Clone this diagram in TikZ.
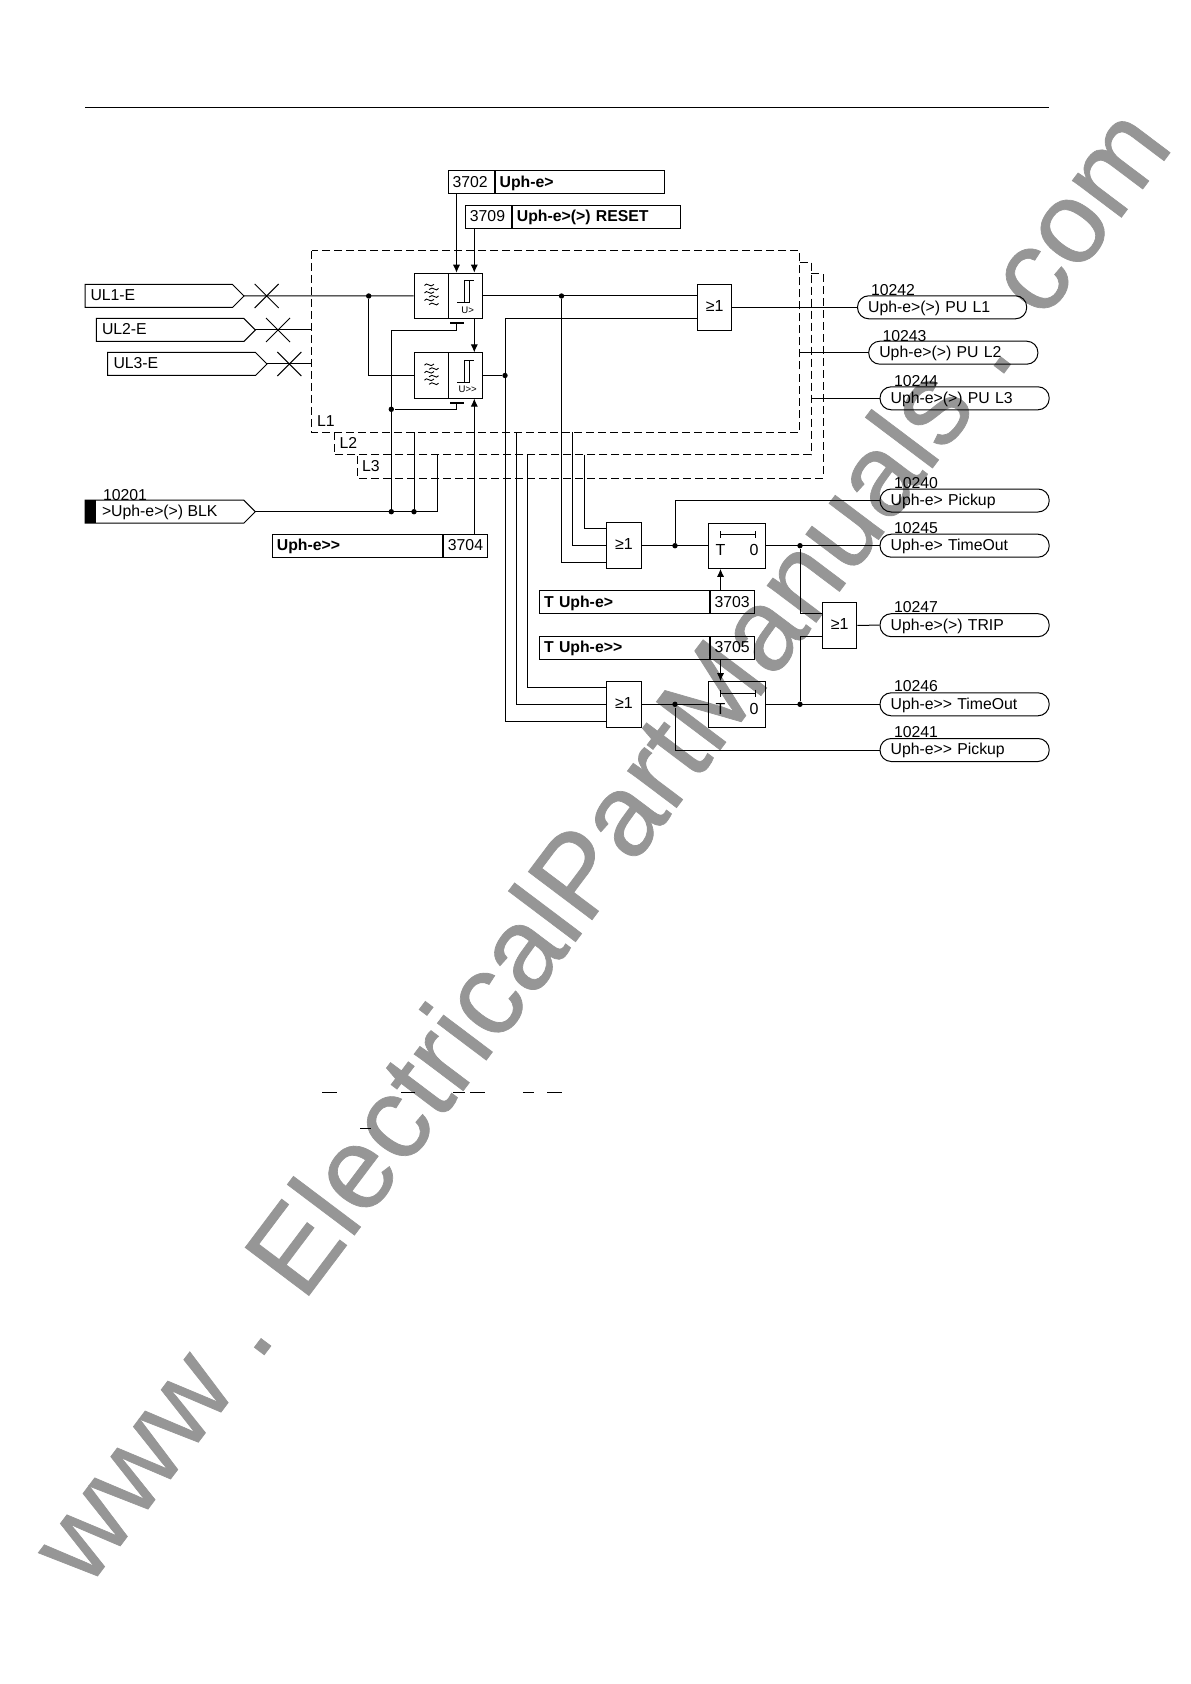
\documentclass[tikz,border=0pt]{standalone}
\usepackage{fontspec}
\setmainfont{Liberation Sans}
\newfontfamily\wmfont[FakeBold=0.6]{Liberation Sans}
\usetikzlibrary{arrows.meta,calc}
\definecolor{wmgray}{RGB}{150,150,150}
\tikzset{
  lbl/.style={anchor=west, inner sep=0pt, text height=6.4pt, text depth=1.5pt, font=\fontsize{7.9}{9}\selectfont},
  setbox/.style={draw, anchor=west, inner xsep=2.2pt, inner ysep=0pt, minimum height=11.5pt, text height=6.4pt, text depth=1.5pt, font=\fontsize{7.9}{9}\selectfont, align=left, text width=#1},
  pill/.style={draw, rounded corners=5.6pt, anchor=west, inner xsep=5.3pt, inner ysep=0pt, minimum height=11.5pt, text height=6.4pt, text depth=1.5pt, font=\fontsize{7.9}{9}\selectfont, align=left, text width=#1},
  orgate/.style={draw, minimum width=17.2pt, minimum height=23pt, inner sep=0pt, font=\fontsize{8}{9}\selectfont},
  block/.style={draw, minimum height=22.6pt, inner sep=0pt},
  timer/.style={draw, minimum width=28.4pt, minimum height=22.7pt, inner sep=0pt},
  dot/.style={circle, fill=black, inner sep=0pt, minimum size=2.7pt},
  arr/.style={-{Latex[length=4pt,width=3.6pt]}},
  bar/.style={line width=1pt},
  ph/.style={dash pattern=on 4pt off 2pt, line width=0.5pt}
}
\newcommand{\inputbox}[6]{% name, left, tip, y, text, text left
  \draw (#2,#4-11.5) -- (#3-11.5,#4-11.5) -- (#3,#4) -- (#3-11.5,#4+11.5) -- (#2,#4+11.5) -- cycle;
  \coordinate (#1) at (#3,#4);
  \node[lbl] (#1txt) at (#6,#4) {#5};
}
\newcommand{\crossmark}[2]{% x, y
  \draw (#1-12,#2-12) -- (#1+12,#2+12) (#1-12,#2+12) -- (#1+12,#2-12);
}
\newcommand{\filtersym}[1]{%
  \begin{scope}[shift={(#1)}, line width=0.45pt]
    \foreach \dy in {-7.5,0,7.5} {
      \draw (-7,\dy-1.5) .. controls (-4.5,\dy-6) and (-1.5,\dy+2) .. (2.5,\dy-2.6);
      \draw (-2.5,\dy+2.6) .. controls (1.5,\dy-2) and (4.5,\dy+6) .. (7,\dy+1.5);
    }
  \end{scope}
}
\newcommand{\thresholdsym}[2]{%
  \begin{scope}[shift={(#1)}, line width=0.45pt]
    \draw (-8,11) -- (4,11) -- (4,-11) -- (8.7,-11);
    \draw (-0.6,11) -- (-0.6,-11) -- (4,-11);
    \node[font=\fontsize{4.8}{5}\selectfont, inner sep=0pt] at (2.4,18.3) {#2};
  \end{scope}
}
\begin{document}
\begin{tikzpicture}[x=0.5pt, y=-0.5pt, line width=0.5pt, line join=miter]
  \useasboundingbox (0,0) rectangle (1190,1684);
  % watermark
  \node[rotate=53, text=wmgray, inner sep=0pt, font=\wmfont\fontsize{58}{58}\selectfont] (watermark) at (598,843) {www . ElectricalPartManuals . com};
  % top rule
  \coordinate (ruleL) at (85,107.5);
  \coordinate (ruleR) at (1049,107.5);
  \draw (ruleL) -- (ruleR);
  % phase frames
  \draw[ph] (311.7,251) rectangle (799.6,432.3);
  \draw[ph] (799.6,262.5) -- (811.4,262.5) -- (811.4,454.7) -- (334.3,454.7) -- (334.3,432.3);
  \draw[ph] (811.4,274) -- (823,274) -- (823,478) -- (357,478) -- (357,454.7);
  \node[lbl] (labL1) at (316.7,421.5) {L1};
  \node[lbl] (labL2) at (339,444) {L2};
  \node[lbl] (labL3) at (361.7,466.5) {L3};
  % settings
  \node[setbox=18.6pt] (s3702) at (447.7,182.3) {3702};
  \node[setbox=80.1pt] (s3702t) at (s3702.east) {\textbf{Uph-e>}};
  \node[setbox=18.6pt] (s3709) at (465,216.8) {3709};
  \node[setbox=79.6pt] (s3709t) at (s3709.east) {\textbf{Uph-e>(>) RESET}};
  \node[setbox=80.6pt] (s3704t) at (272,545.5) {\textbf{Uph-e>{}>}};
  \node[setbox=17.5pt] (s3704) at (s3704t.east) {3704};
  \node[setbox=80.3pt] (s3703t) at (539.2,602.2) {\textbf{T Uph-e>}};
  \node[setbox=17.6pt] (s3703) at (s3703t.east) {3703};
  \node[setbox=80.3pt] (s3705t) at (539.2,647.8) {\textbf{T Uph-e>{}>}};
  \node[setbox=17.6pt] (s3705) at (s3705t.east) {3705};
  % inputs
  \inputbox{ul1}{85}{244}{296}{UL1-E}{90}
  \inputbox{ul2}{96.3}{255.3}{330}{UL2-E}{101.5}
  \inputbox{ul3}{107.7}{267}{364}{UL3-E}{113}
  \inputbox{blk}{85}{255.3}{511.7}{>Uph-e>(>) BLK}{101.5}
  \fill (85,500.2) rectangle (96.3,523.2);
  \node[lbl] (n10201) at (102.5,495.5) {10201};
  \crossmark{266.7}{296}
  \crossmark{278}{330}
  \crossmark{289.3}{364}
  % measuring blocks
  \node[block, minimum width=17.2pt] (filt1) at (431.2,295.8) {};
  \node[block, minimum width=16.8pt] (thr1) at (465.2,295.8) {};
  \node[block, minimum width=17.2pt] (filt2) at (431.2,375.5) {};
  \node[block, minimum width=16.8pt] (thr2) at (465.2,375.5) {};
  \filtersym{431.5,294.5}
  \filtersym{431.5,374.2}
  \thresholdsym{465.3,291.7}{U>}
  \thresholdsym{465.3,371.2}{U>{}>}
  % logic gates and timers
  \node[orgate] (or1) at (714.6,307.3) {\raisebox{1.4pt}{≥1}};
  \node[orgate] (or2) at (623.9,545.7) {\raisebox{1.4pt}{≥1}};
  \node[orgate] (or3) at (839.6,625.3) {\raisebox{1.4pt}{≥1}};
  \node[orgate] (or4) at (623.9,704.3) {\raisebox{1.4pt}{≥1}};
  \node[timer] (tim1) at (737.3,545.7) {};
  \node[timer] (tim2) at (737.3,704.3) {};
  \foreach \tm/\ty in {tim1/545.7, tim2/704.3} {
    \draw (720.5,\ty-11) -- (755.6,\ty-11) (720.5,\ty-14.5) -- (720.5,\ty-7.5) (755.6,\ty-14.5) -- (755.6,\ty-7.5);
    \node[font=\fontsize{8}{9}\selectfont, inner sep=0pt] at (720.5,\ty+4.5) {T};
    \node[font=\fontsize{8}{9}\selectfont, inner sep=0pt] at (754,\ty+4.5) {0};
  }
  % outputs
  \node[pill=74pt] (puL1) at (857,307.3) {Uph-e>(>) PU L1};
  \node[pill=74pt] (puL2) at (868.2,352.7) {Uph-e>(>) PU L2};
  \node[pill=74pt] (puL3) at (879.5,398.3) {Uph-e>(>) PU L3};
  \node[pill=74pt] (pick1) at (879.5,500.5) {Uph-e> Pickup};
  \node[pill=74pt] (tout1) at (879.5,545.7) {Uph-e> TimeOut};
  \node[pill=74pt] (trip) at (879.5,625.2) {Uph-e>(>) TRIP};
  \node[pill=74pt] (tout2) at (879.5,704.3) {Uph-e>{}> TimeOut};
  \node[pill=74pt] (pick2) at (879.5,750) {Uph-e>{}> Pickup};
  \node[lbl] (n10242) at (870.5,291) {10242};
  \node[lbl] (n10243) at (882,336.5) {10243};
  \node[lbl] (n10244) at (893.5,382) {10244};
  \node[lbl] (n10240) at (893.5,483.7) {10240};
  \node[lbl] (n10245) at (893.5,529) {10245};
  \node[lbl] (n10247) at (893.5,607.7) {10247};
  \node[lbl] (n10246) at (893.5,686.7) {10246};
  \node[lbl] (n10241) at (893.5,732.3) {10241};
  % columns
  \coordinate (xA) at (456.5,0);
  \coordinate (xB) at (474.3,0);
  \coordinate (xC) at (391.3,0);
  \coordinate (xT) at (720.5,0);
  \coordinate (frameA) at (799.6,352.7);
  \coordinate (frameB) at (811.4,398.3);
  \node[dot] (dA) at (368.7,296) {};
  \node[dot] (dB) at (561.5,296) {};
  \node[dot] (dC) at (505,375.5) {};
  \node[dot] (dD) at (391.3,409.3) {};
  \node[dot] (dE) at (391.3,511.7) {};
  \node[dot] (dF) at (414,511.7) {};
  \node[dot] (dG) at (675,545.7) {};
  \node[dot] (dH) at (800,545.7) {};
  \node[dot] (dI) at (675,704.3) {};
  \node[dot] (dJ) at (800,704.3) {};
  % wires into the blocks
  \draw (ul1) -- (filt1.west);
  \draw (dA) |- (filt2.west);
  \draw (ul2) -- (311.7,330);
  \draw (ul3) -- (311.7,364);
  \draw[arr] (xA |- s3702.south) -- (xA |- thr1.north);
  \draw[arr] (xB |- s3709.south) -- (xB |- thr1.north);
  \draw[arr] (xB |- thr1.south) -- (xB |- thr2.north);
  \draw[arr] (xB |- s3704.north) -- (xB |- thr2.south);
  \draw[bar] (450,323.3) -- (463.5,323.3);
  \draw[bar] (450,403) -- (463.5,403);
  \draw (xA |- 0,323.3) |- (391.3,330.3) -- (dE);
  \draw (xA |- 0,403) |- (dD);
  \draw (blk) -- (437,511.7) -- (437,454.7);
  \draw (dF) -- (414,432.3);
  % wires after the blocks
  \draw (thr1.east) -- (or1.west |- thr1.east);
  \draw (thr2.east) -- (dC);
  \draw (or1.west |- 0,318.7) -| (505,721.7) -- (or4.west |- 0,721.7);
  \draw (or1.east) -- (puL1.west);
  \draw (frameA) -- (puL2.west);
  \draw (frameB) -- (puL3.west);
  \draw (dB) |- (or2.west |- 0,562.3);
  \draw (572.7,432.3) |- (or2.west);
  \draw (584,454.7) |- (or2.west |- 0,528.7);
  \draw (516.3,432.3) |- (or4.west);
  \draw (527.7,454.7) |- (or4.west |- 0,687.7);
  \draw (or2.east) -- (tim1.west);
  \draw (dG) |- (pick1.west);
  \draw (tim1.east) -- (tout1.west);
  \draw (or4.east) -- (tim2.west);
  \draw (dI) |- (pick2.west);
  \draw (tim2.east) -- (tout2.west);
  \draw (dH) |- (or3.west |- 0,613.5);
  \draw (dJ) |- (or3.west |- 0,636.8);
  \draw (or3.east) -- (trip.west);
  \draw[arr] (xT |- s3703.north) -- (xT |- tim1.south);
  \draw[arr] (xT |- s3705.south) -- (xT |- tim2.north);
  % stray strokes
  \foreach \xa/\xb in {322/337, 401/415, 453/465, 470/485, 523/534, 547/562}
    \draw (\xa,1092.3) -- (\xb,1092.3);
  \draw (360,1128.3) -- (371,1128.3);
\end{tikzpicture}
\end{document}
